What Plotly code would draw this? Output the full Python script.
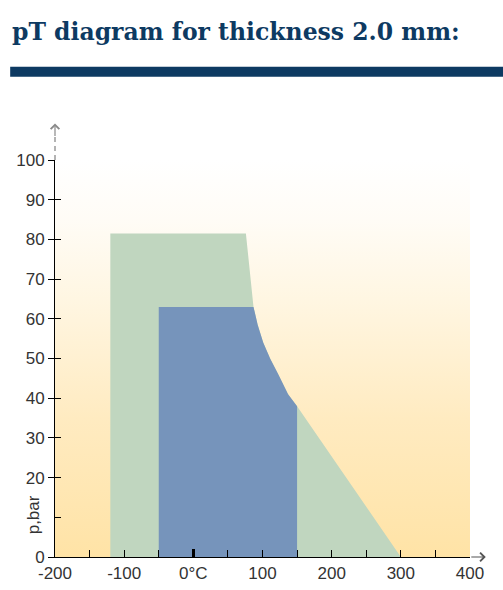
import plotly.graph_objects as go

# temperature (°C) / pressure (bar) outlines
green_T = [-120, -120, 76, 79.5, 84, 87, 93, 101, 111, 123, 137, 150, 300]
green_p = [0, 81.5, 81.5, 75, 67, 63, 58.5, 54, 50, 46, 41, 38, 0]

blue_T = [-50, -50, 87, 93, 101, 111, 123, 137, 150, 150]
blue_p = [0, 63, 63, 58.5, 54, 50, 46, 41, 38, 0]

x_range = [-200, 400]
y_range = [0, 100]

x_ticks = [-200, -150, -100, -50, 0, 50, 100, 150, 200, 250, 300, 350, 400]
x_labels = ["-200", "", "-100", "", "0°C", "", "100", "", "200", "", "300", "", "400"]
y_ticks = [0, 10, 20, 30, 40, 50, 60, 70, 80, 90, 100]
y_label_vals = [0, 20, 30, 40, 50, 60, 70, 80, 90, 100]

title = "pT diagram for thickness 2.0 mm:"
navy = "#0d3a62"
tick_font = dict(family="Liberation Sans, Arial, sans-serif", size=17, color="#333333")

fig = go.Figure()

# background gradient over the whole plotting range
fig.add_trace(go.Scatter(
    x=[x_range[0], x_range[1], x_range[1], x_range[0], x_range[0]],
    y=[y_range[0], y_range[0], y_range[1], y_range[1], y_range[0]],
    mode="lines", line=dict(width=0), fill="toself",
    fillgradient=dict(type="vertical", colorscale=[
        [0, "#FFE3A6"], [0.35, "#FFEBC1"], [0.65, "#FFF6E2"], [0.85, "#FFFCF6"], [1, "#FFFFFF"]]),
    hoverinfo="skip", showlegend=False))

fig.add_trace(go.Scatter(x=green_T, y=green_p, mode="lines", line=dict(width=0),
                         fill="toself", fillcolor="#C0D6BF", hoverinfo="skip", showlegend=False))
fig.add_trace(go.Scatter(x=blue_T, y=blue_p, mode="lines", line=dict(width=0),
                         fill="toself", fillcolor="#7694BB", hoverinfo="skip", showlegend=False))

# dummy traces so the overlay axes get drawn
fig.add_trace(go.Scatter(x=[None], y=[None], xaxis="x2", yaxis="y", showlegend=False))
fig.add_trace(go.Scatter(x=[None], y=[None], xaxis="x", yaxis="y2", showlegend=False))

fig.update_layout(
    width=503, height=590,
    margin=dict(l=55, r=33, t=160, b=33),
    paper_bgcolor="white", plot_bgcolor="white",
    xaxis=dict(range=x_range, showgrid=False, zeroline=False, automargin=False,
               showline=True, linecolor="black", linewidth=1.3,
               ticks="inside", ticklen=7, tickwidth=1.3, tickcolor="black",
               tickvals=x_ticks, ticktext=x_labels, tickfont=tick_font),
    xaxis2=dict(range=x_range, overlaying="x", side="bottom", showgrid=False, automargin=False,
                zeroline=False, showline=False, showticklabels=False,
                ticks="inside", ticklen=8, tickwidth=3, tickcolor="black", tickvals=[0]),
    yaxis=dict(range=y_range, showgrid=False, zeroline=False, automargin=False,
               showline=True, linecolor="black", linewidth=1.3,
               ticks="inside", ticklen=6, tickwidth=1.3, tickcolor="black",
               tickvals=y_ticks, showticklabels=False),
    yaxis2=dict(range=y_range, overlaying="y", side="left", showgrid=False, automargin=False,
                zeroline=False, showline=False,
                ticks="outside", ticklen=6, tickwidth=1.3, tickcolor="black",
                tickvals=y_label_vals, ticktext=[str(v) for v in y_label_vals],
                tickfont=tick_font),
    shapes=[
        dict(type="rect", xref="paper", yref="paper", x0=-0.108, x1=1.1,
             y0=1.210, y1=1.235, fillcolor=navy, line=dict(width=0)),
        dict(type="line", xref="paper", yref="paper", x0=0, x1=0, y0=1.0, y1=1.065,
             line=dict(color="#9a9a9a", width=1.5, dash="5px,4px")),
    ],
    annotations=[
        dict(text=title, xref="paper", yref="paper", x=-0.108, y=1.322,
             xanchor="left", yanchor="middle", showarrow=False,
             font=dict(family="DejaVu Serif", size=23.5, color=navy, weight="bold")),
        dict(text="p,bar", xref="paper", yref="paper", x=-0.053, y=0.105,
             xanchor="center", yanchor="middle",
             textangle=-90, showarrow=False, font=tick_font),
        dict(text="", xref="paper", yref="paper", x=0, y=1.092, ax=0, ay=14,
             showarrow=True, arrowhead=4, arrowsize=1.4, arrowwidth=1.2, arrowcolor="#8a8a8a"),
        dict(text="", xref="paper", yref="paper", x=1.038, y=0, ax=-16, ay=0,
             showarrow=True, arrowhead=4, arrowsize=1.4, arrowwidth=1.2, arrowcolor="#555555"),
    ],
)

fig.write_html("out.html", config={"displayModeBar": False},
               post_script="document.body.style.margin='0px';")
